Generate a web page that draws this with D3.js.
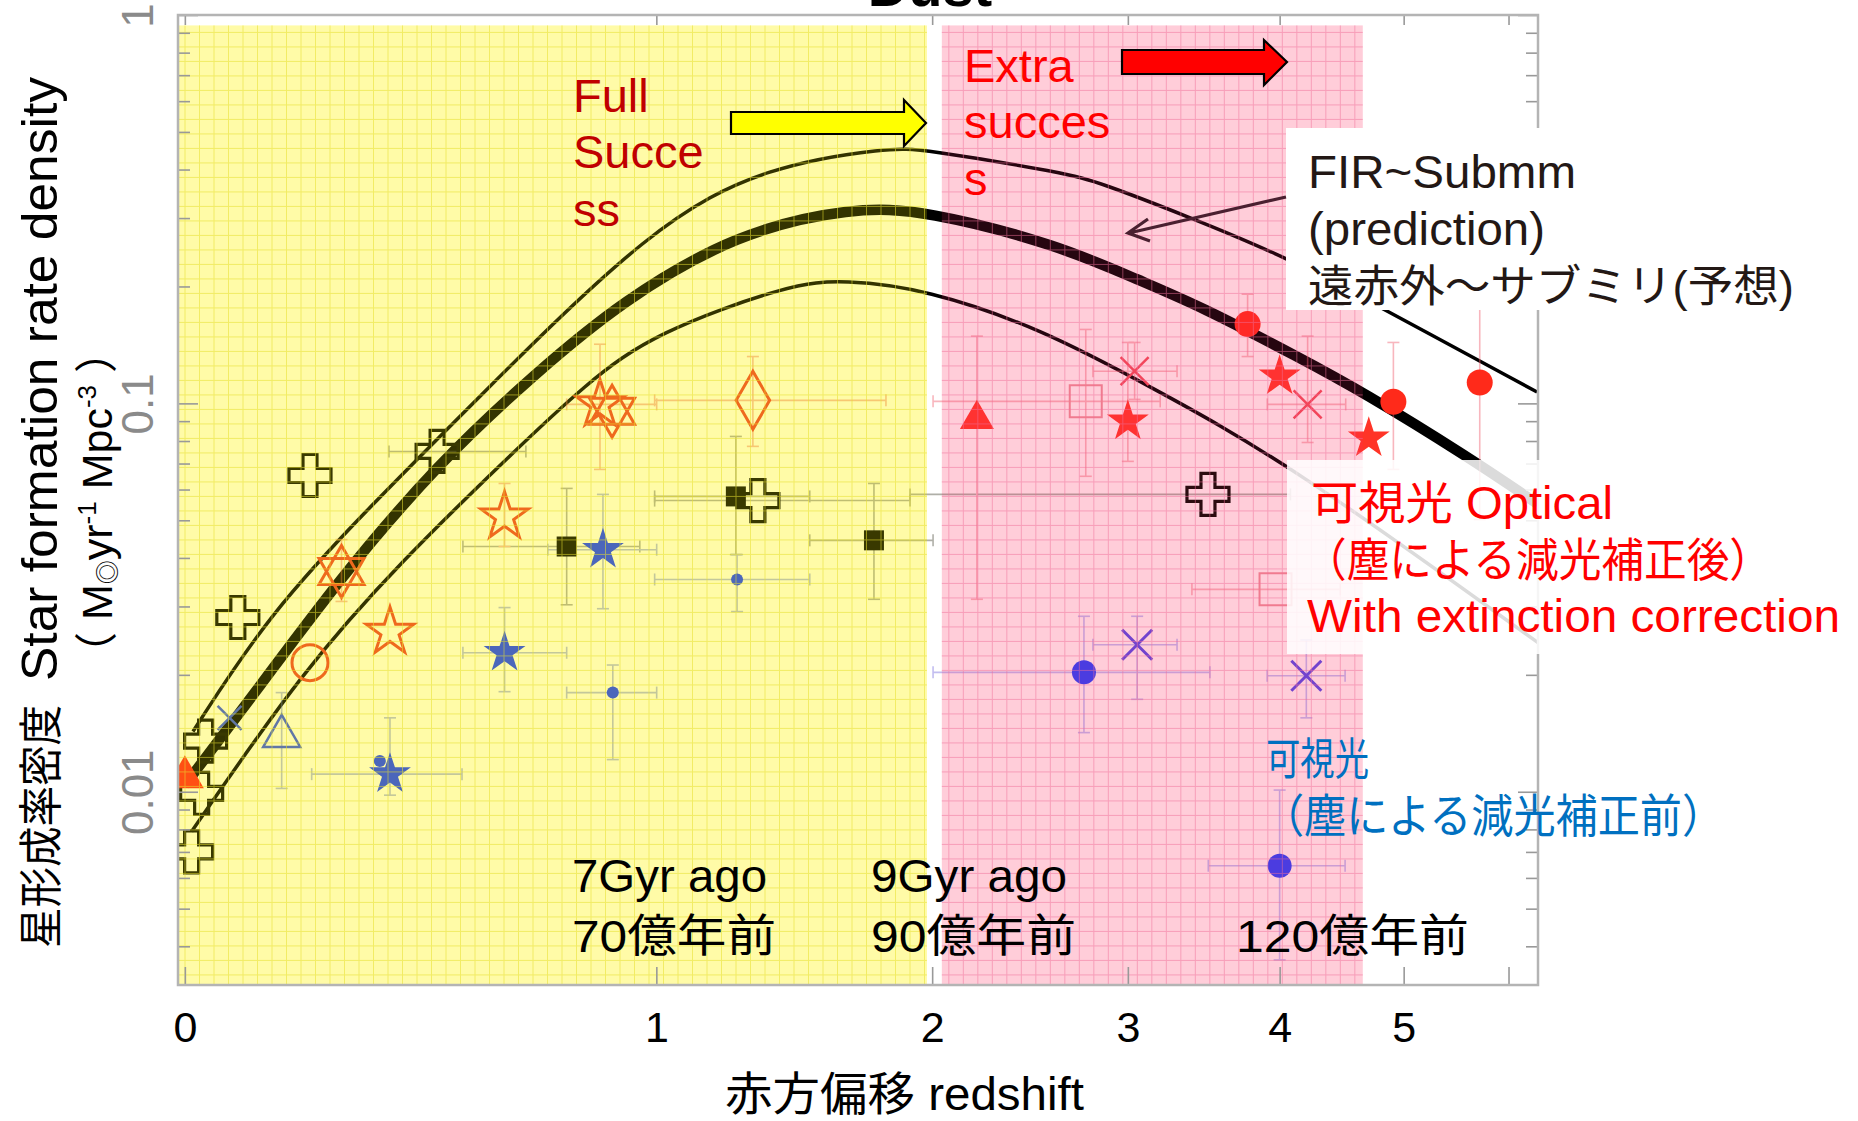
<!DOCTYPE html>
<html lang="ja">
<head>
<meta charset="utf-8">
<title>Star formation rate density</title>
<script src="https://d3js.org/d3.v7.min.js"></script>
<style>
  body { margin: 0; background: #fff; }
  svg { display: block; }
  text { font-family: "Liberation Sans", Arial, "Noto Sans CJK JP", sans-serif; }
</style>
</head>
<body>
<svg id="chart" width="1858" height="1121"></svg>
<script>
// ---- data: [redshift, SFR density] ----
var curveHigh = [[0.012,0.0143],[0.133,0.0289],[0.313,0.0543],[0.52,0.0982],[0.99,0.29],[1.36,0.41],
                 [1.82,0.455],[1.95,0.452],[2.65,0.392],[2.84,0.370],[3.35,0.305],[4.05,0.238],[4.69,0.184],[6.3,0.107]];
var curveMid  = [[0.0,0.0104],[0.12,0.0190],[0.25,0.0346],[0.45,0.070],[0.68,0.121],[0.90,0.183],[1.25,0.275],
                 [1.67,0.320],[1.97,0.314],[2.61,0.256],[3.07,0.207],[3.45,0.178],[4.15,0.131],[4.65,0.107],
                 [5.59,0.073],[6.31,0.055]];
var curveLow  = [[0.010,0.0079],[0.19,0.0206],[0.378,0.0396],[0.596,0.0705],[0.806,0.1132],[0.995,0.152],
                 [1.436,0.203],[1.635,0.208],[1.973,0.197],[2.53,0.155],[3.13,0.1106],[4.05,0.0709],[6.31,0.0242]];

// observations: [z, sfr, zLo, zHi, sfrLo, sfrHi]
var obsCross = [[0.202,0.0652],[0.081,0.0281],[0.449,0.0752,0.350,0.651],[0.031,0.0135],[0.025,0.0099],
                [0.010,0.0070],[1.322,0.0562,0.995,1.904],[3.50,0.0583,1.904,4.08]];
var obsSquare = [[0.753,0.0428,0.505,0.952,0.0303,0.0604],[1.248,0.0576,0.995,1.506,0.0408,0.0822],
                 [1.754,0.0444,1.506,2.004,0.0313,0.0622]];
var obsBlueStar = [[0.849,0.0420,0.705,1.001,0.0296,0.0583],[0.600,0.0228,0.505,0.753,0.0181,0.0298],
                   [0.352,0.0111,0.205,0.503,0.0098,0.0155]];
var obsBlueDot = [[0.876,0.0180,0.753,1.001,0.0121,0.0212],[1.252,0.0352,0.995,1.506,0.0291,0.0408],[0.332,0.0120]];
var obsBlueTriangle = [[0.153,0.0139,null,null,0.0102,0.0180]];
var obsBlueX = [[0.068,0.0155]];
var obsOrangeStar = [[0.841,0.0994,0.753,1.001,0.0676,0.142],[0.600,0.0511,null,null,0.0428,0.0622],[0.352,0.0258]];
var obsOrangeHex = [[0.874,0.0954],[0.259,0.0369,null,null,0.0309,0.0446]];
var obsOrangeCircle = [[0.202,0.0215]];
var obsOrangeDiamond = [[1.305,0.1018,0.995,1.803,0.0775,0.132]];
var obsOrangeTriangle = [[0.0,0.0109]];
var obsRedTriangle = [[2.204,0.0910,null,null,0.0313,0.149]];
var obsRedStar = [[3.00,0.0899,null,null,0.0709,0.1435],[4.00,0.1174],[4.70,0.0813]];
var obsRedDot = [[3.77,0.160,null,null,0.132,0.191],[4.91,0.101,null,null,0.0676,0.1435],[5.71,0.1132,null,null,0.0502,0.178]];
var obsRedX = [[3.04,0.121,2.80,3.30,0.1024,0.1435],[4.21,0.0994,3.91,4.51,0.0793,0.149]];
var obsRedSquare = [[2.76,0.1012,2.004,3.195,0.0649,0.155],[3.97,0.0332,3.395,4.466]];
var obsVioletDot = [[2.75,0.0203,2.004,3.513,0.0142,0.0283],[4.00,0.00645,3.502,4.505,0.00369,0.0101]];
var obsVioletX = [[3.055,0.0239,2.80,3.30,0.0173,0.0283],[4.20,0.0199,3.909,4.505,0.0155,0.0246]];

// mission bands (redshift ranges) and ticks
var bandFull = [-0.01, 1.977];
var bandExtra = [2.043, 4.65];
var bandTop = 0.94;
var xTickVals = [0, 1, 2, 3, 4, 5, 6];
var xTickLabels = ["0", "1", "2", "3", "4", "5", ""];
var yMajor = [1, 0.1, 0.01];
var yMajorLabels = ["1", "0.1", "0.01"];
var yMinor = [0.004,0.005,0.006,0.007,0.008,0.009,0.02,0.03,0.04,0.05,0.06,0.07,0.08,0.09,
              0.2,0.3,0.4,0.5,0.6,0.7,0.8,0.9];

// ---- scales ----
var plot = {left: 178, right: 1538, top: 15, bottom: 985};
var x = d3.scaleLog().domain([0.99, 7.31]).range([plot.left, plot.right]);   // 1+z
var y = d3.scaleLog().domain([0.00318, 1]).range([plot.bottom, plot.top]);
function px(z) { return x(1 + z); }

var svg = d3.select("#chart");
svg.append("rect").attr("width", 1858).attr("height", 1121).attr("fill", "#fff");
svg.append("defs").append("clipPath").attr("id", "plotClip").append("rect")
    .attr("x", plot.left).attr("y", plot.top)
    .attr("width", plot.right - plot.left).attr("height", plot.bottom - plot.top);

var bands = [
  {range: bandFull,  base: "#fffbd1", tint: "#ffff00", tintOp: 0.2,  grid: "#e8e030", gridOp: 0.55},
  {range: bandExtra, base: "#ffeaed", tint: "#ff286e", tintOp: 0.15, grid: "#f2709a", gridOp: 0.5}
];

// band backgrounds
svg.append("g").selectAll("rect").data(bands).join("rect")
    .attr("x", function(b) { return px(b.range[0]); })
    .attr("width", function(b) { return px(b.range[1]) - px(b.range[0]); })
    .attr("y", y(bandTop)).attr("height", plot.bottom - y(bandTop))
    .attr("fill", function(b) { return b.base; });

var g = svg.append("g").attr("clip-path", "url(#plotClip)");

// model curves
var line = d3.line()
    .x(function(d) { return px(d[0]); })
    .y(function(d) { return y(d[1]); })
    .curve(d3.curveBasis);
g.append("path").datum(curveHigh).attr("d", line).attr("fill", "none").attr("stroke", "#000").attr("stroke-width", 3.5);
g.append("path").datum(curveLow).attr("d", line).attr("fill", "none").attr("stroke", "#000").attr("stroke-width", 3.5);
g.append("path").datum(curveMid).attr("d", line).attr("fill", "none").attr("stroke", "#000").attr("stroke-width", 10.5);

// marker shapes
function symbolPath(shape, s) {
  var gen = d3.symbol(), p;
  if (shape === "cross") return gen.type(d3.symbolCross).size(5 * Math.pow(s / 3, 2))();
  if (shape === "star") return gen.type(d3.symbolStar).size(s * s / 0.8908)();
  if (shape === "triangle") return gen.type(d3.symbolTriangle).size(Math.pow(s / (2 * Math.sqrt(3)), 2) * 3 * Math.sqrt(3))();
  if (shape === "diamond") return gen.type(d3.symbolDiamond).size(Math.pow(s / 2, 2) * 1.1547)();
  if (shape === "square") return gen.type(d3.symbolSquare).size(s * s)();
  if (shape === "circle") return gen.type(d3.symbolCircle).size(Math.PI * s * s)();
  p = d3.path();
  if (shape === "x") {
    p.moveTo(-s, -s); p.lineTo(s, s); p.moveTo(-s, s); p.lineTo(s, -s);
  } else if (shape === "hex") {
    [-90, 90].forEach(function(a0) {
      for (var i = 0; i < 3; i++) {
        var a = (a0 + i * 120) * Math.PI / 180;
        if (i === 0) p.moveTo(s * Math.cos(a), s * Math.sin(a)); else p.lineTo(s * Math.cos(a), s * Math.sin(a));
      }
      p.closePath();
    });
  }
  return p.toString();
}

var series = [
  {data: obsCross, shape: "cross", s: 42, stroke: "#080800", sw: 3.2, bar: "#505040"},
  {data: obsSquare, shape: "square", s: 20, fill: "#080800", bar: "#505040"},
  {data: obsBlueStar, shape: "star", s: 22, fill: "#1e40ea", bar: "#5a6ab0"},
  {data: obsBlueDot, shape: "circle", s: 6, fill: "#1e40ea", bar: "#5a6ab0"},
  {data: obsBlueTriangle, shape: "triangle", s: 37, stroke: "#3a55d0", sw: 2.5, bar: "#5a6ab0"},
  {data: obsBlueX, shape: "x", s: 12, stroke: "#3a55d0", sw: 2.5, bar: "#5a6ab0"},
  {data: obsOrangeStar, shape: "star", s: 25, stroke: "#ec4425", sw: 3, bar: "#ec6a40"},
  {data: obsOrangeHex, shape: "hex", s: 26, stroke: "#ec4425", sw: 3, bar: "#ec6a40"},
  {data: obsOrangeCircle, shape: "circle", s: 18, stroke: "#ec4425", sw: 3, bar: "#ec6a40"},
  {data: obsOrangeDiamond, shape: "diamond", s: 58, stroke: "#ec4425", sw: 3, bar: "#ec6a40"},
  {data: obsOrangeTriangle, shape: "triangle", s: 38, fill: "#ff2419", bar: "#ec6a40"},
  {data: obsRedTriangle, shape: "triangle", s: 34, fill: "#ff3427", bar: "#f06070"},
  {data: obsRedStar, shape: "star", s: 22, fill: "#ff3427", bar: "#f06070"},
  {data: obsRedDot, shape: "circle", s: 13, fill: "#ff2a1a", bar: "#f06070"},
  {data: obsRedX, shape: "x", s: 14, stroke: "#f04a58", sw: 2.5, bar: "#f06070"},
  {data: obsRedSquare, shape: "square", s: 32, stroke: "#ee8a96", sw: 2, bar: "#f06070"},
  {data: obsVioletDot, shape: "circle", s: 12, fill: "#2c40f5", bar: "#7a70e0"},
  {data: obsVioletX, shape: "x", s: 15, stroke: "#5a48e0", sw: 3, bar: "#7a70e0"}
];

// error bars
var errG = g.append("g").attr("stroke-width", 1.6).attr("opacity", 0.45);
var cap = 6;
series.forEach(function(sr) {
  sr.data.forEach(function(d) {
    var cx = px(d[0]), cy = y(d[1]);
    if (d[2] != null) {
      var xa = px(d[2]), xb = px(d[3]);
      errG.append("line").attr("x1", xa).attr("x2", xb).attr("y1", cy).attr("y2", cy).attr("stroke", sr.bar);
      [xa, xb].forEach(function(xx) {
        errG.append("line").attr("x1", xx).attr("x2", xx).attr("y1", cy - cap).attr("y2", cy + cap).attr("stroke", sr.bar);
      });
    }
    if (d[4] != null) {
      var ya = y(d[4]), yb = y(d[5]);
      errG.append("line").attr("x1", cx).attr("x2", cx).attr("y1", ya).attr("y2", yb).attr("stroke", sr.bar);
      [ya, yb].forEach(function(yy) {
        errG.append("line").attr("x1", cx - cap).attr("x2", cx + cap).attr("y1", yy).attr("y2", yy).attr("stroke", sr.bar);
      });
    }
  });
});

// markers
series.forEach(function(sr) {
  g.append("g").selectAll("path").data(sr.data).join("path")
      .attr("transform", function(d) { return "translate(" + px(d[0]) + "," + y(d[1]) + ")"; })
      .attr("d", symbolPath(sr.shape, sr.s))
      .attr("fill", sr.fill || "none")
      .attr("stroke", sr.stroke || "none")
      .attr("stroke-width", sr.sw || 0)
      .attr("stroke-linejoin", "miter");
});

// tinted overlay with fine grid on top of the bands
bands.forEach(function(b) {
  var x0 = px(b.range[0]), x1 = px(b.range[1]), y0 = y(bandTop), y1 = plot.bottom;
  var tg = svg.append("g");
  tg.append("rect").attr("x", x0).attr("y", y0).attr("width", x1 - x0).attr("height", y1 - y0)
      .attr("fill", b.tint).attr("opacity", b.tintOp);
  var gl = tg.append("g").attr("stroke", b.grid).attr("stroke-width", 1).attr("opacity", b.gridOp);
  gl.selectAll("line.v").data(d3.range(x0 + 7, x1, 14.5)).join("line").attr("class", "v")
      .attr("x1", function(d) { return d; }).attr("x2", function(d) { return d; })
      .attr("y1", y0).attr("y2", y1);
  gl.selectAll("line.h").data(d3.range(y0 + 7, y1, 14.5)).join("line").attr("class", "h")
      .attr("y1", function(d) { return d; }).attr("y2", function(d) { return d; })
      .attr("x1", x0).attr("x2", x1);
});

// ---- axes (ticks inside the frame) ----
function styleAxis(ax) {
  ax.select(".domain").remove();
  ax.selectAll("line").attr("stroke", "#999").attr("stroke-width", 1.6);
  ax.attr("font-family", null).attr("font-size", null);
}
var gxB = svg.append("g").attr("transform", "translate(0," + plot.bottom + ")")
    .call(d3.axisBottom(x).tickValues(xTickVals.map(function(z) { return 1 + z; }))
        .tickSizeInner(-18).tickSizeOuter(0).tickPadding(26)
        .tickFormat(function(d, i) { return xTickLabels[i]; }));
styleAxis(gxB);
gxB.selectAll("text").attr("font-size", 43).attr("fill", "#000");

var gxT = svg.append("g").attr("transform", "translate(0," + plot.top + ")")
    .call(d3.axisTop(x).tickValues(xTickVals.map(function(z) { return 1 + z; }))
        .tickSizeInner(-10).tickSizeOuter(0).tickFormat(""));
styleAxis(gxT);

[["left", plot.left, d3.axisLeft], ["right", plot.right, d3.axisRight]].forEach(function(a) {
  var gMaj = svg.append("g").attr("transform", "translate(" + a[1] + ",0)")
      .call(a[2](y).tickValues(yMajor).tickSizeInner(-20).tickSizeOuter(0)
          .tickFormat(function(d, i) { return a[0] === "left" ? yMajorLabels[i] : ""; }));
  styleAxis(gMaj);
  var gMin = svg.append("g").attr("transform", "translate(" + a[1] + ",0)")
      .call(a[2](y).tickValues(yMinor).tickSizeInner(-12).tickSizeOuter(0).tickFormat(""));
  styleAxis(gMin);
  if (a[0] === "left") {
    gMaj.selectAll("text")
        .attr("x", null).attr("dy", null).attr("y", 0)
        .attr("transform", "translate(-25,0) rotate(-90)")
        .attr("text-anchor", "middle")
        .attr("font-family", "'Liberation Serif', serif")
        .attr("font-size", 44).attr("fill", "#8a8a8a");
  }
});

// frame
svg.append("rect").attr("x", plot.left).attr("y", plot.top)
    .attr("width", plot.right - plot.left).attr("height", plot.bottom - plot.top)
    .attr("fill", "none").attr("stroke", "#b4b4b4").attr("stroke-width", 2.5);

// ---- annotation boxes ----
svg.append("rect").attr("x", 1286).attr("y", 128).attr("width", 572).attr("height", 182).attr("fill", "#fff");
svg.append("rect").attr("x", 1287).attr("y", 460).attr("width", 560).attr("height", 194).attr("fill", "#fff").attr("opacity", 0.86);

// arrows
svg.append("path").attr("d", "M731,112 L904,112 L904,100 L926,123 L904,146 L904,134 L731,134 Z")
    .attr("fill", "#ffff00").attr("stroke", "#000").attr("stroke-width", 2.2);
svg.append("path").attr("d", "M1122,50 L1264,50 L1264,40 L1287,62 L1264,85 L1264,74 L1122,74 Z")
    .attr("fill", "#ff0000").attr("stroke", "#000").attr("stroke-width", 2.2);
svg.append("path").attr("d", "M1286,197 L1129,233 M1148,219 L1128,233 L1150,241")
    .attr("fill", "none").attr("stroke", "#4a2030").attr("stroke-width", 3.2);

// ---- texts ----
var notes = [
  {t: "Full", x: 573, y: 112, c: "#c00000", fs: 47},
  {t: "Succe", x: 573, y: 168, c: "#c00000", fs: 47},
  {t: "ss", x: 573, y: 226, c: "#c00000", fs: 47},
  {t: "Extra", x: 964, y: 82, c: "#ff0000", fs: 47},
  {t: "succes", x: 964, y: 138, c: "#ff0000", fs: 47},
  {t: "s", x: 964, y: 195, c: "#ff0000", fs: 47},
  {t: "FIR~Submm", x: 1308, y: 188, c: "#231815", fs: 46, w: 268},
  {t: "(prediction)", x: 1308, y: 245, c: "#231815", fs: 46, w: 237},
  {t: "遠赤外〜サブミリ(予想)", x: 1308, y: 302, c: "#231815", fs: 44, w: 486},
  {t: "可視光 Optical", x: 1311, y: 519, c: "#ff0000", fs: 46, w: 302},
  {t: "（塵による減光補正後）", x: 1304, y: 576, c: "#ff0000", fs: 46, w: 468},
  {t: "With extinction correction", x: 1307, y: 632, c: "#ff0000", fs: 47, w: 533},
  {t: "可視光", x: 1266, y: 775, c: "#0070c0", fs: 44, w: 103},
  {t: "（塵による減光補正前）", x: 1262, y: 832, c: "#0070c0", fs: 46, w: 462},
  {t: "7Gyr ago", x: 572, y: 892, c: "#000", fs: 46, w: 195},
  {t: "70億年前", x: 572, y: 952, c: "#000", fs: 45, w: 204},
  {t: "9Gyr ago", x: 871, y: 892, c: "#000", fs: 46, w: 196},
  {t: "90億年前", x: 871, y: 952, c: "#000", fs: 45, w: 205},
  {t: "120億年前", x: 1236, y: 952, c: "#000", fs: 45, w: 233},
  {t: "赤方偏移 redshift", x: 725, y: 1110, c: "#000", fs: 46, w: 359}
];
notes.forEach(function(n) {
  var tx = svg.append("text").attr("x", n.x).attr("y", n.y).attr("fill", n.c)
      .attr("font-size", n.fs).text(n.t);
  if (n.w) tx.attr("textLength", n.w).attr("lengthAdjust", "spacingAndGlyphs");
});

svg.append("text").attr("x", 930).attr("y", 6).attr("text-anchor", "middle")
    .attr("font-size", 56).attr("font-weight", "bold").attr("fill", "#000").text("Dust");

// y axis title (rotated)
var yt = svg.append("g").attr("transform", "translate(57,0) rotate(-90)");
yt.append("text").attr("x", -948).attr("y", 0).attr("font-size", 44).attr("fill", "#000")
    .attr("textLength", 243).attr("lengthAdjust", "spacingAndGlyphs").text("星形成率密度");
yt.append("text").attr("x", -681).attr("y", 0).attr("font-size", 50).attr("fill", "#000")
    .attr("textLength", 604).attr("lengthAdjust", "spacingAndGlyphs").text("Star formation rate density");

var yt2 = svg.append("g").attr("transform", "translate(112,0) rotate(-90)")
    .append("text").attr("x", -675).attr("y", 0).attr("font-size", 43).attr("fill", "#000");
yt2.append("tspan").text("（ M");
yt2.append("tspan").attr("font-size", 24).attr("dy", 4).text("◎");
yt2.append("tspan").attr("dy", -4).text("yr");
yt2.append("tspan").attr("font-size", 26).attr("dy", -16).text("-1");
yt2.append("tspan").attr("dy", 16).text(" Mpc");
yt2.append("tspan").attr("font-size", 26).attr("dy", -16).text("-3");
yt2.append("tspan").attr("dy", 16).text(" ）");
</script>
</body>
</html>
